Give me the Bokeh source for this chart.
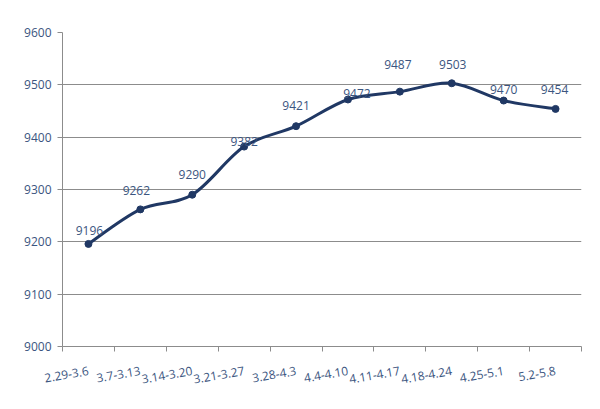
from bokeh.plotting import figure
from bokeh.models import FixedTicker, ColumnDataSource, LabelSet, Range1d
from bokeh.core.properties import value
from bokeh.embed import file_html
from bokeh.resources import INLINE

categories = ["2.29-3.6", "3.7-3.13", "3.14-3.20", "3.21-3.27", "3.28-4.3",
              "4.4-4.10", "4.11-4.17", "4.18-4.24", "4.25-5.1", "5.2-5.8"]
values = [9196, 9262, 9290, 9382, 9421, 9472, 9487, 9503, 9470, 9454]
y_ticks = [9000, 9100, 9200, 9300, 9400, 9500, 9600]

# label placement (pixels) as in the source chart
label_dx = [1, -4, 0, 0, 0, 9, -2, 1, 0, -1]
label_dy = [13, 19, 20, 5, 21, 6, 27, 19, 11, 19]

LINE = "#203864"
TEXT = "#3B5580"
GRID = "#8C8C8C"
FONT = "Open Sans"

n = len(categories)
xs = [i + 0.5 for i in range(n)]

p = figure(width=600, height=409, output_backend="svg", toolbar_location=None,
           x_range=Range1d(0, n), y_range=Range1d(9000, 9600),
           min_border_left=62, min_border_right=19, min_border_top=32, min_border_bottom=63)
p.outline_line_color = None
p.background_fill_color = "white"
p.border_fill_color = "white"

# smoothed line via Catmull-Rom -> Bezier segments
x0, y0, x1, y1, cx0, cy0, cx1, cy1 = [], [], [], [], [], [], [], []
for i in range(n - 1):
    pxm = xs[i - 1] if i > 0 else xs[i]
    pym = values[i - 1] if i > 0 else values[i]
    pxp = xs[i + 2] if i + 2 < n else xs[i + 1]
    pyp = values[i + 2] if i + 2 < n else values[i + 1]
    x0.append(xs[i]); y0.append(values[i])
    x1.append(xs[i + 1]); y1.append(values[i + 1])
    cx0.append(xs[i] + (xs[i + 1] - pxm) / 6)
    cy0.append(values[i] + (values[i + 1] - pym) / 6)
    cx1.append(xs[i + 1] - (pxp - xs[i]) / 6)
    cy1.append(values[i + 1] - (pyp - values[i]) / 6)
p.bezier(x0=x0, y0=y0, x1=x1, y1=y1, cx0=cx0, cy0=cy0, cx1=cx1, cy1=cy1,
         line_color=LINE, line_width=3)

src = ColumnDataSource(dict(x=xs, y=values, t=[str(v) for v in values],
                            dx=label_dx, dy=label_dy))
p.scatter("x", "y", source=src, size=7, color=LINE)
p.add_layout(LabelSet(x="x", y="y", text="t", source=src, x_offset="dx", y_offset="dy",
                      text_align="center", text_baseline="middle",
                      text_font=value(FONT), text_font_size=value("12px"),
                      text_color=TEXT))

# axes
p.xgrid.grid_line_color = None
p.ygrid.grid_line_color = GRID
p.ygrid.grid_line_width = 1
p.ygrid.ticker = FixedTicker(ticks=y_ticks)

xa = p.xaxis[0]
xa.ticker = FixedTicker(ticks=xs, minor_ticks=list(range(n + 1)))
xa.major_label_overrides = {x: c for x, c in zip(xs, categories)}
xa.major_tick_out = 0
xa.major_tick_in = 0
xa.minor_tick_out = 5
xa.minor_tick_in = 0
xa.minor_tick_line_color = GRID
xa.axis_line_color = GRID
xa.major_label_orientation = 0.17
xa.major_label_standoff = 19
xa.major_label_text_font = FONT
xa.major_label_text_font_size = "12px"
xa.major_label_text_color = TEXT

ya = p.yaxis[0]
ya.ticker = FixedTicker(ticks=y_ticks)
ya.major_tick_out = 5
ya.major_tick_in = 0
ya.minor_tick_line_color = None
ya.major_tick_line_color = GRID
ya.axis_line_color = GRID
ya.major_label_standoff = 6
ya.major_label_text_font = FONT
ya.major_label_text_font_size = "12px"
ya.major_label_text_color = TEXT

open("out.html", "w").write(file_html(p, INLINE))
